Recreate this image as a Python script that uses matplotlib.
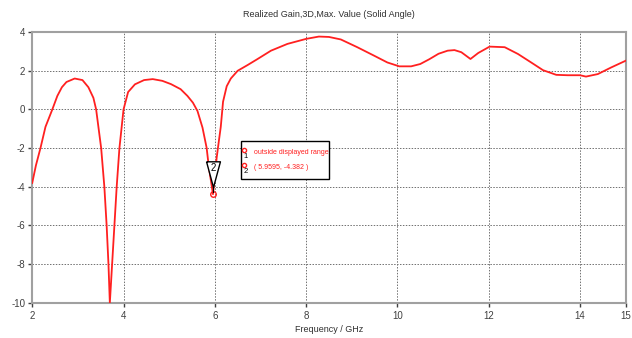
import matplotlib
matplotlib.use("Agg")
import matplotlib.pyplot as plt
import matplotlib.transforms as mtransforms
from matplotlib.patches import Rectangle

# realized gain (dBi) vs frequency (GHz)
freq = [2.0, 2.08, 2.18, 2.29, 2.44, 2.55, 2.65, 2.75, 2.93, 3.1, 3.23, 3.34, 3.40,
        3.51, 3.58, 3.63, 3.67, 3.70, 3.75, 3.80, 3.85, 3.91, 4.0, 4.1, 4.25, 4.45,
        4.64, 4.85, 5.04, 5.25, 5.40, 5.52, 5.62, 5.73, 5.82, 5.87, 5.9595, 6.04,
        6.09, 6.13, 6.18, 6.26, 6.35, 6.5, 6.72, 6.93, 7.23, 7.59, 8.0, 8.28, 8.5,
        8.76, 9.12, 9.49, 9.78, 10.04, 10.3, 10.5, 10.7, 10.9, 11.1, 11.25, 11.4,
        11.6, 11.77, 12.02, 12.35, 12.64, 12.93, 13.19, 13.48, 13.73, 14.0, 14.13,
        14.39, 14.68, 15.0]
gain = [-3.8, -2.9, -2.0, -0.9, 0.0, 0.7, 1.15, 1.42, 1.6, 1.52, 1.15, 0.6, 0.0,
        -2.0, -4.0, -6.0, -8.0, -10.0, -8.0, -6.0, -4.0, -2.0, 0.0, 0.9, 1.3, 1.52,
        1.57, 1.48, 1.31, 1.05, 0.70, 0.35, -0.08, -0.94, -1.98, -3.0, -4.382, -2.5,
        -1.6, -0.9, 0.4, 1.2, 1.6, 2.0, 2.3, 2.6, 3.04, 3.39, 3.65, 3.77, 3.75,
        3.62, 3.22, 2.78, 2.43, 2.23, 2.23, 2.35, 2.6, 2.88, 3.04, 3.07, 2.96,
        2.61, 2.92, 3.25, 3.22, 2.87, 2.43, 2.03, 1.79, 1.77, 1.77, 1.70,
        1.83, 2.17, 2.52]

xticks = [2, 4, 6, 8, 10, 12, 14, 15]
yticks = [-10, -8, -6, -4, -2, 0, 2, 4]
mark_f = 5.9595
mark_v = -4.382
box_lines = ["outside displayed range", "( 5.9595, -4.382 )"]

plt.rcParams['font.family'] = ['Liberation Sans', 'DejaVu Sans']
plt.rcParams['axes.unicode_minus'] = False
red = '#ff2020'
grey = '#a0a0a0'

fig = plt.figure(figsize=(6.32, 3.38), dpi=100)
ax = fig.add_axes([0.051, 0.104, 0.939, 0.801])

ax.plot(freq, gain, color=red, lw=1.3, zorder=3)
ax.set_xlim(2, 15)
ax.set_ylim(-10, 4)
ax.set_xticks(xticks)
ax.set_yticks(yticks)
ax.grid(True, ls=(0, (1.5, 1.5)), color='#707070', lw=0.7)
for s in ax.spines.values():
    s.set_color(grey)
    s.set_linewidth(1.5)
ax.tick_params(labelsize=7, colors='#404040', length=3, width=1, direction='out')
ax.tick_params(axis='x', pad=3)
ax.tick_params(axis='y', pad=2)

ax.set_title("Realized Gain,3D,Max. Value (Solid Angle)", fontsize=6.5, color='#303030', pad=11)
ax.set_xlabel("Frequency / GHz", fontsize=6.5, color='#303030', labelpad=3)

# marker 2 at the dip (pixel offsets from the marker point)
ident = mtransforms.IdentityTransform()
mx, my = ax.transData.transform((mark_f, mark_v))

ax.plot([mark_f], [mark_v], 'o', ms=4, mfc='none', mec=red, mew=1, zorder=5)
tri = [(-1, 3.7), (1, 3.7), (0, 0), (-1, 3.7)]
off_tip = mtransforms.offset_copy(ax.transData, fig=fig, x=0, y=7, units='dots')
ax.plot([mark_f], [mark_v], marker=tri, ms=37, mfc='white', mec='black', mew=1,
        transform=off_tip, zorder=6)
fig.text(mx, my + 26, "2", transform=ident, ha='center', va='center',
         fontsize=7, color='black', zorder=7)
fig.add_artist(plt.Line2D([mx, mx], [my + 2, my + 7], transform=ident,
                          color='black', lw=0.8, zorder=7))

# info box
fig.add_artist(Rectangle((mx + 28, my + 15), 88, 38, transform=ident,
                         fc='white', ec='black', lw=1, zorder=7))
for k, dy in enumerate([44, 29]):
    fig.add_artist(plt.Line2D([mx + 31], [my + dy], transform=ident, marker='o',
                              ms=3, mfc='none', mec=red, mew=1, zorder=8))
    fig.text(mx + 33, my + dy - 6, str(k + 1), transform=ident, ha='center',
             va='center', fontsize=5.5, color='black', zorder=8)
    fig.text(mx + 41, my + dy - 2, box_lines[k], transform=ident, ha='left',
             va='center', fontsize=5, color=red, zorder=8)

fig.savefig("out.png", dpi=100)
